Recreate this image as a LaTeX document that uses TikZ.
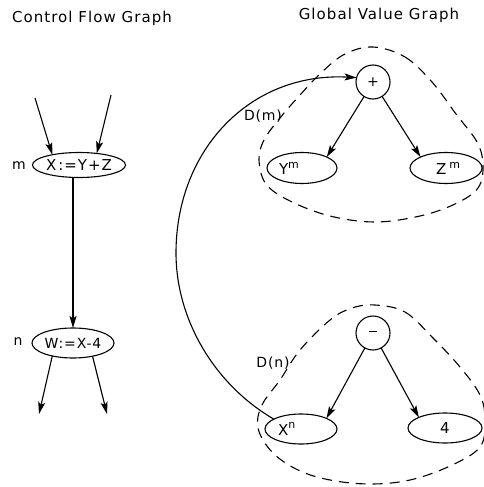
\documentclass[tikz,border=0pt]{standalone}
\usepackage{fontspec}
\setmainfont{DejaVu Sans}
\newfontfamily\titlefont[LetterSpace=7]{DejaVu Sans}
\newfontfamily\lblfont[LetterSpace=6]{DejaVu Sans}
\usetikzlibrary{arrows.meta,shapes.geometric}
\begin{document}
\begin{tikzpicture}[x=1pt,y=-1pt,
  every node/.style={inner sep=0pt,outer sep=0pt},
  title/.style={font=\titlefont\fontsize{15}{15}\selectfont},
  stmt/.style={draw,ellipse,line width=1.1pt,font=\lblfont\fontsize{15}{15}\selectfont},
  val/.style={draw,ellipse,line width=1.1pt,minimum height=30pt,font=\lblfont\fontsize{15}{15}\selectfont},
  op/.style={draw,circle,minimum size=34pt,line width=1.1pt,font=\fontsize{14}{14}\selectfont},
  lab/.style={font=\lblfont\fontsize{14}{14}\selectfont},
  edge/.style={line width=1.1pt,-{Stealth[length=12pt,width=7pt,inset=2.5pt]}},
  region/.style={line width=1.1pt,dash pattern=on 10pt off 7pt}
]
\useasboundingbox (0,0) rectangle (483,487);
% titles
\node[title] (t1) at (92,18) {Control Flow Graph};
\node[title] (t2) at (379,15) {Global Value Graph};
% control flow graph
\node[stmt,minimum width=88pt,minimum height=25pt] (m1) at (79,165) {X\hspace{2pt}:=\hspace{1pt}Y\hspace{1pt}+\hspace{1pt}Z};
\node[lab] (mlab) at (19,166) {m};
\node[stmt,minimum width=82pt,minimum height=30pt,font=\lblfont\fontsize{14}{14}\selectfont] (n1) at (73,343) {W:=\hspace{1pt}X-4};
\node[lab] (nlab) at (18,342) {n};
\coordinate (in1) at (35,98);
\coordinate (in2) at (111,95);
\coordinate (out1) at (39,414);
\coordinate (out2) at (107,414);
\draw[edge] (in1) -- (m1.159);
\draw[edge] (in2) -- (m1.33);
\draw[edge] (m1.south -| n1.north) -- (n1.north);
\draw[edge] (n1.-148) -- (out1);
\draw[edge] (n1.-34) -- (out2);
% global value graph
\node[op] (plus) at (373,82) {+};
\node[val,minimum width=70pt,minimum height=31pt] (ym) at (302,168) {\makebox[46pt][l]{Y\raisebox{6pt}{\fontsize{11}{11}\selectfont m}}};
\node[val,minimum width=72pt,minimum height=31pt] (zm) at (446,168) {\makebox[20pt][l]{Z\hspace{3pt}\raisebox{6pt}{\fontsize{11}{11}\selectfont m}}};
\node[op] (minus) at (373,333) {\rule[4pt]{8pt}{0.9pt}};
\node[val,minimum width=72pt] (xn) at (301,429) {\makebox[46pt][l]{X\raisebox{7pt}{\fontsize{11}{11}\selectfont n}}};
\node[val,minimum width=74pt] (four) at (445,428) {4};
\draw[edge] (plus) -- (ym.north east);
\draw[edge] (plus) -- (zm.north west);
\draw[edge] (minus) -- (xn.north east);
\draw[edge] (minus) -- (four.north west);
\coordinate (bend) at (176,253);
\draw[edge] (xn.160) .. controls (215,385) and (176,320) .. (bend)
  .. controls (176,150) and (250,72) .. (plus.165);
% regions
\draw[region] plot[smooth cycle,tension=0.6] coordinates {(373,47) (405,57) (432,82) (456,114) (477,142) (483,165) (478,188) (455,204) (420,216) (375,222) (330,216) (290,201) (266,184) (259,160) (264,140) (280,118) (300,95) (322,72) (345,54)};
\draw[region] plot[smooth cycle,tension=0.6] coordinates {(375,305) (405,312) (433,338) (460,367) (480,395) (485,420) (480,447) (450,466) (410,480) (370,484) (330,480) (298,470) (272,452) (258,428) (262,405) (280,380) (300,350) (330,320) (352,308)};
\node[lab] (dm) at (263,116) {D(m)};
\node[lab] (dn) at (273,363) {D(n)};
\end{tikzpicture}
\end{document}
